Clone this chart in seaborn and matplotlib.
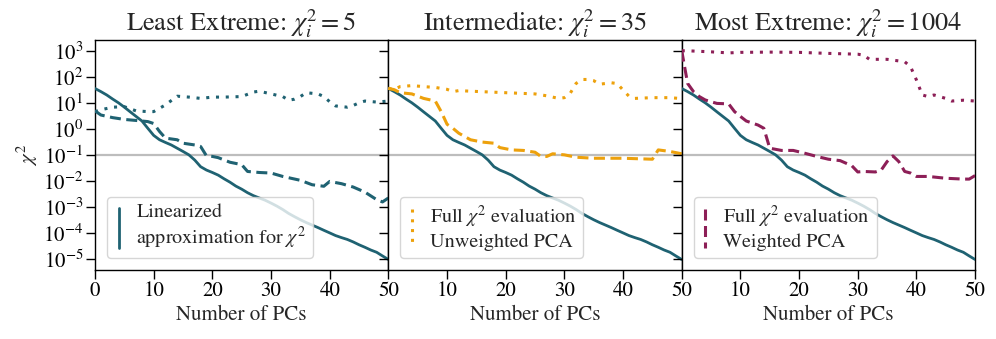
import matplotlib
matplotlib.use("Agg")
import matplotlib.pyplot as plt
import seaborn as sns
from matplotlib.lines import Line2D
from matplotlib.legend_handler import HandlerLine2D

# ---------------- data ----------------
n_pcs = list(range(51))
linearized = [35.5, 27, 20, 14, 10, 6.8, 4.5, 3.0, 2.0, 1.05,
              0.56, 0.38, 0.30, 0.24, 0.18, 0.135, 0.10, 0.063, 0.035, 0.026,
              0.021, 0.0166, 0.012, 0.0089, 0.0063, 0.0048, 0.0035, 0.0027, 0.0022, 0.0018,
              0.0014, 0.00107, 7.9e-4, 5.6e-4, 4.2e-4, 3.2e-4, 2.5e-4, 2.0e-4, 1.6e-4, 1.26e-4,
              1.0e-4, 7.9e-5, 6.6e-5, 5.6e-5, 4.5e-5, 3.5e-5, 2.8e-5, 2.2e-5, 1.8e-5, 1.3e-5,
              9.5e-6]

least_full_x = [0, 1, 3, 5, 7, 9, 10, 12, 14, 16, 18, 20, 22, 25, 27, 28, 30, 32, 33, 34,
                35, 36, 38, 39, 40, 41, 43, 44, 45, 46, 48, 50]
least_full_y = [4.6, 5.4, 6.8, 7.1, 4.9, 4.6, 4.6, 8.3, 18, 16.6, 14.8, 16.6, 16.6, 17.4, 26, 28,
                22, 17.4, 12.6, 13.8, 17.4, 24.5, 22, 17.4, 11, 7.6, 6.8, 7.9, 10, 11.7, 10.7, 11.7]
least_pca_x = [0, 1, 3, 5, 7, 9, 10, 11, 12, 14, 15, 17, 18, 19, 20, 21, 23, 25, 26, 28,
               30, 32, 35, 37, 39, 40, 42, 44, 46, 48, 49, 50]
least_pca_y = [4.9, 3.4, 2.7, 2.3, 2.1, 1.9, 1.6, 0.79, 0.44, 0.38, 0.28, 0.24, 0.21, 0.091,
               0.087, 0.078, 0.052, 0.042, 0.023, 0.021, 0.020, 0.0148, 0.0105, 0.0071, 0.0062,
               0.0095, 0.0078, 0.0058, 0.0037, 0.0019, 0.00155, 0.0022]

inter_full_x = [0, 1, 2, 4, 6, 8, 10, 11, 12, 14, 20, 25, 27, 29, 30, 31, 32, 33, 34, 35,
                36, 38, 39, 40, 41, 42, 45, 48, 50]
inter_full_y = [36, 33, 42, 46, 42, 39, 33, 27, 29.5, 28, 24.5, 22, 18.6, 14.8, 15.8, 23.4, 56,
                79, 79, 71, 52, 59, 55, 31, 18, 14.8, 15.8, 15.8, 14.5]
inter_pca_x = [0, 1, 2, 4, 6, 8, 9, 10, 11, 12, 14, 16, 18, 19, 21, 23, 25, 26, 27, 28,
               30, 32, 35, 40, 45, 46, 48, 50]
inter_pca_y = [36, 32, 24.5, 22, 14.8, 11.7, 4.6, 1.5, 1.05, 0.68, 0.38, 0.31, 0.28, 0.19,
               0.155, 0.148, 0.126, 0.087, 0.087, 0.11, 0.10, 0.081, 0.074, 0.074, 0.068,
               0.155, 0.135, 0.11]

most_full_x = [0, 1, 5, 8, 10, 15, 20, 25, 30, 31, 32, 35, 38, 39, 40, 41, 42, 43, 45, 46, 48, 50]
most_full_y = [1004, 1000, 912, 830, 870, 890, 870, 795, 740, 680, 470, 470, 380, 245, 76,
               20, 17.4, 20, 14.8, 11.7, 12.6, 11.7]
most_pca_x = [0, 1, 2, 3, 4, 5, 6, 8, 9, 10, 11, 13, 14, 15, 17, 19, 21, 23, 25, 27,
              29, 30, 31, 33, 34, 35, 36, 37, 38, 39, 40, 42, 45, 48, 49, 50]
most_pca_y = [1004, 56, 27, 17.4, 12.9, 11, 9.5, 9.1, 4.6, 3.0, 2.0, 1.4, 1.05, 0.18, 0.148,
              0.148, 0.115, 0.087, 0.068, 0.060, 0.038, 0.022, 0.023, 0.022, 0.026, 0.055,
              0.091, 0.055, 0.023, 0.020, 0.0148, 0.0148, 0.0126, 0.0117, 0.0117, 0.016]

titles = [r"Least Extreme: $\chi_i^2=5$", r"Intermediate: $\chi_i^2=35$",
          r"Most Extreme: $\chi_i^2=1004$"]
legend_labels = ["Linearized\napproximation for $\\chi^2$",
                 "Full $\\chi^2$ evaluation\nUnweighted PCA",
                 "Full $\\chi^2$ evaluation\nWeighted PCA"]
threshold = 0.1

TEAL = "#1f6272"
ORANGE = "#eda10c"
MAROON = "#8d1f57"
DOTTED = (0, (1, 2.2))
DASHED = (0, (3.6, 1.8))

# ---------------- style ----------------
sns.set_style("ticks")
plt.rcParams["font.family"] = ["STIXGeneral", "DejaVu Serif"]
plt.rcParams["mathtext.fontset"] = "stix"
plt.rcParams["axes.linewidth"] = 1.0


class VerticalHandler(HandlerLine2D):
    def create_artists(self, legend, orig_handle, xdescent, ydescent,
                       width, height, fontsize, trans):
        x = width / 2 - xdescent
        y0 = -ydescent - 0.45 * fontsize
        y1 = height - ydescent + 0.35 * fontsize
        line = Line2D([x, x], [y1, y0])
        self.update_prop(line, orig_handle, legend)
        line.set_transform(trans)
        return [line]


fig, axes = plt.subplots(1, 3, figsize=(9.96, 3.39), dpi=100, sharey=True)
fig.subplots_adjust(left=0.0954, right=0.979, top=0.882, bottom=0.204, wspace=0)

panels = [
    (least_full_x, least_full_y, least_pca_x, least_pca_y, TEAL),
    (inter_full_x, inter_full_y, inter_pca_x, inter_pca_y, ORANGE),
    (most_full_x, most_full_y, most_pca_x, most_pca_y, MAROON),
]

for i, (ax, (fx, fy, px, py, col)) in enumerate(zip(axes, panels)):
    ax.axhline(threshold, color="#bdbdbd", lw=1.6, zorder=1)
    sns.lineplot(x=n_pcs, y=linearized, ax=ax, color=TEAL, lw=2.0, zorder=3)
    sns.lineplot(x=fx, y=fy, ax=ax, color=col, lw=2.2, ls=DOTTED, zorder=3)
    sns.lineplot(x=px, y=py, ax=ax, color=col, lw=2.2, ls=DASHED, zorder=3)
    ax.set_yscale("log")
    ax.set_xlim(0, 50)
    ax.set_ylim(3.8e-6, 2600)
    ax.set_xticks([0, 10, 20, 30, 40, 50] if i == 0 else [10, 20, 30, 40, 50])
    ax.set_yticks([10.0 ** k for k in range(-5, 4)])
    ax.tick_params(axis="both", which="major", direction="out", length=6.5, width=1,
                   labelsize=15, pad=2, colors="black")
    ax.tick_params(axis="y", which="minor", direction="out", length=4, width=0.8)
    ax.set_title(titles[i], fontsize=19, pad=6)
    ax.set_xlabel("Number of PCs", fontsize=15, labelpad=3)
    for s in ax.spines.values():
        s.set_color("black")
    if i == 0:
        ax.set_ylabel(r"$\chi^2$", fontsize=15, labelpad=2)
    else:
        ax.tick_params(axis="y", which="both", labelleft=False)

handler = {Line2D: VerticalHandler()}
leg_kw = dict(loc="lower left", fontsize=14.5, handlelength=0.45, handleheight=1.4,
              handletextpad=0.65, borderaxespad=0.6, borderpad=0.35, labelspacing=0.2,
              frameon=True, framealpha=0.8, edgecolor="#cccccc", fancybox=True,
              handler_map=handler)
axes[0].legend([Line2D([], [], color=TEAL, lw=2.0)], [legend_labels[0]], **leg_kw)
axes[1].legend([Line2D([], [], color=ORANGE, lw=2.2, ls=DOTTED)], [legend_labels[1]], **leg_kw)
axes[2].legend([Line2D([], [], color=MAROON, lw=2.2, ls=DASHED)], [legend_labels[2]], **leg_kw)

fig.savefig("out.png", dpi=100)
